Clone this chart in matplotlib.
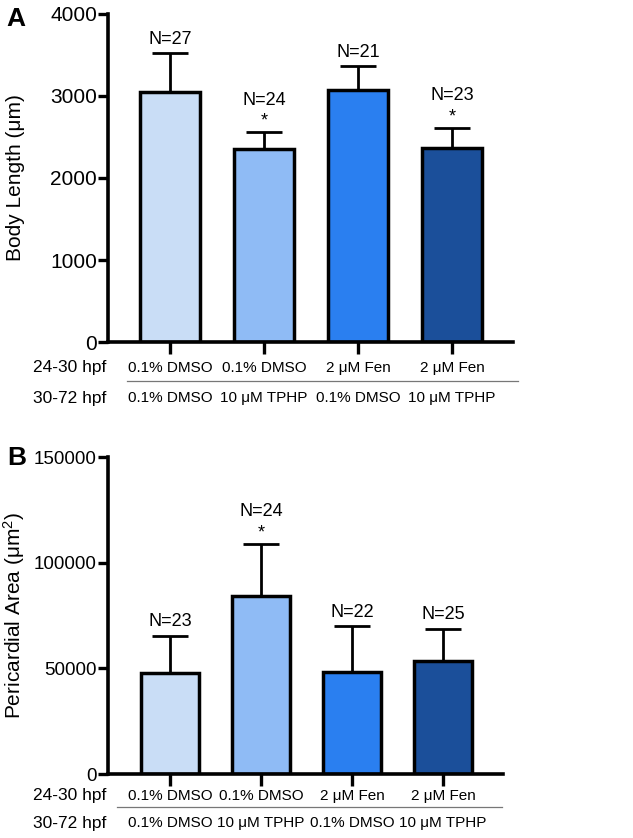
import numpy as np
import matplotlib.pyplot as plt
from matplotlib import font_manager

# Schriften: Liberation Sans (Arial-aehnlich), schmale Variante fuer Beschriftungen falls vorhanden
plt.rcParams['font.family'] = ['Liberation Sans', 'DejaVu Sans']
plt.rcParams['mathtext.fontset'] = 'custom'
plt.rcParams['mathtext.rm'] = 'Liberation Sans'
plt.rcParams['mathtext.it'] = 'Liberation Sans'
installed = {f.name for f in font_manager.fontManager.ttflist}
if 'Liberation Sans Narrow' in installed:
    narrow = ['Liberation Sans Narrow', 'DejaVu Sans']
    cat_size = 13
else:
    narrow = ['Liberation Sans', 'DejaVu Sans']
    cat_size = 11

# Daten
row_labels = ['24-30 hpf', '30-72 hpf']
groups_2430 = ['0.1% DMSO', '0.1% DMSO', '2 μM Fen', '2 μM Fen']
groups_3072 = ['0.1% DMSO', '10 μM TPHP', '0.1% DMSO', '10 μM TPHP']

body_length = [3050, 2355, 3075, 2360]
body_length_sd = [470, 200, 290, 250]
body_n = [27, 24, 21, 23]
body_sig = [False, True, False, True]

peri_area = [48000, 84300, 48500, 53700]
peri_area_sd = [17500, 24500, 21300, 15000]
peri_n = [23, 24, 22, 25]
peri_sig = [False, True, False, False]

bar_colors = ['#c9ddf6', '#8fbbf5', '#2a7ff0', '#1b4f9a']

fig = plt.figure(figsize=(6.33, 8.38), dpi=100)
axA = fig.add_axes([108/633, 1-342/838, 405/633, 328/838])
axB = fig.add_axes([108/633, 1-774/838, 395/633, 317/838])


def panel(ax, werte, sd, ns, sig, yticks, ylabel, xlim, breite, ticksize,
          zeile1, zeile2, linie_y, linie_x):
    x = np.arange(len(werte))
    ax.errorbar(x, werte, yerr=[np.zeros(len(sd)), sd], fmt='none',
                ecolor='black', elinewidth=2.0, capsize=13, capthick=2.0,
                zorder=1)
    ax.bar(x, werte, width=breite, color=bar_colors, edgecolor='black',
           linewidth=2.5, zorder=2)
    for xi, w, s, n, stern in zip(x, werte, sd, ns, sig):
        oben = w + s
        if stern:
            ax.annotate('*', (xi, oben), xytext=(0, 2), textcoords='offset points',
                        ha='center', va='bottom', fontsize=13, family=narrow)
            ax.annotate('N=%d' % n, (xi, oben), xytext=(0, 17),
                        textcoords='offset points', ha='center', va='bottom',
                        fontsize=13, family=narrow)
        else:
            ax.annotate('N=%d' % n, (xi, oben), xytext=(0, 4),
                        textcoords='offset points', ha='center', va='bottom',
                        fontsize=13, family=narrow)

    ax.set_xlim(xlim)
    ax.set_ylim(yticks[0], yticks[-1])
    ax.set_yticks(yticks)
    ax.set_xticks(x)
    ax.set_xticklabels([])
    for s in ['top', 'right']:
        ax.spines[s].set_visible(False)
    for s in ['left', 'bottom']:
        ax.spines[s].set_linewidth(2.6)
    ax.tick_params(axis='y', length=7, width=2.4, pad=1, labelsize=ticksize)
    ax.tick_params(axis='x', length=8.5, width=2.4)
    ax.set_ylabel(ylabel, fontsize=15)
    ax.yaxis.set_label_coords(-0.205, 0.5)

    # Behandlungstabelle unter der Achse
    trans = ax.get_xaxis_transform()
    for xi, g1, g2 in zip(x, groups_2430, groups_3072):
        ax.text(xi, zeile1, g1, transform=trans, ha='center', va='center',
                fontsize=cat_size, family=narrow, clip_on=False)
        ax.text(xi, zeile2, g2, transform=trans, ha='center', va='center',
                fontsize=cat_size, family=narrow, clip_on=False)
    ax.text(-0.005, zeile1, row_labels[0], transform=ax.transAxes, ha='right',
            va='center', fontsize=12.5)
    ax.text(-0.005, zeile2, row_labels[1], transform=ax.transAxes, ha='right',
            va='center', fontsize=12.5)
    ax.plot(linie_x, [linie_y, linie_y], transform=ax.transAxes, color='#777777',
            linewidth=0.9, clip_on=False)


panel(axA, body_length, body_length_sd, body_n, body_sig,
      [0, 1000, 2000, 3000, 4000], 'Body Length (μm)', (-0.66, 3.65), 0.63, 15,
      -0.079, -0.171, -0.119, [0.047, 1.012])
panel(axB, peri_area, peri_area_sd, peri_n, peri_sig,
      [0, 50000, 100000, 150000], 'Pericardial Area (μm$^2$)', (-0.68, 3.66), 0.63, 13.5,
      -0.069, -0.155, -0.104, [0.023, 0.997])

fig.text(6/633, 1-26/838, 'A', fontsize=19, fontweight='bold', va='baseline')
fig.text(7/633, 1-465/838, 'B', fontsize=19, fontweight='bold', va='baseline')

fig.savefig('out.png', dpi=100)
